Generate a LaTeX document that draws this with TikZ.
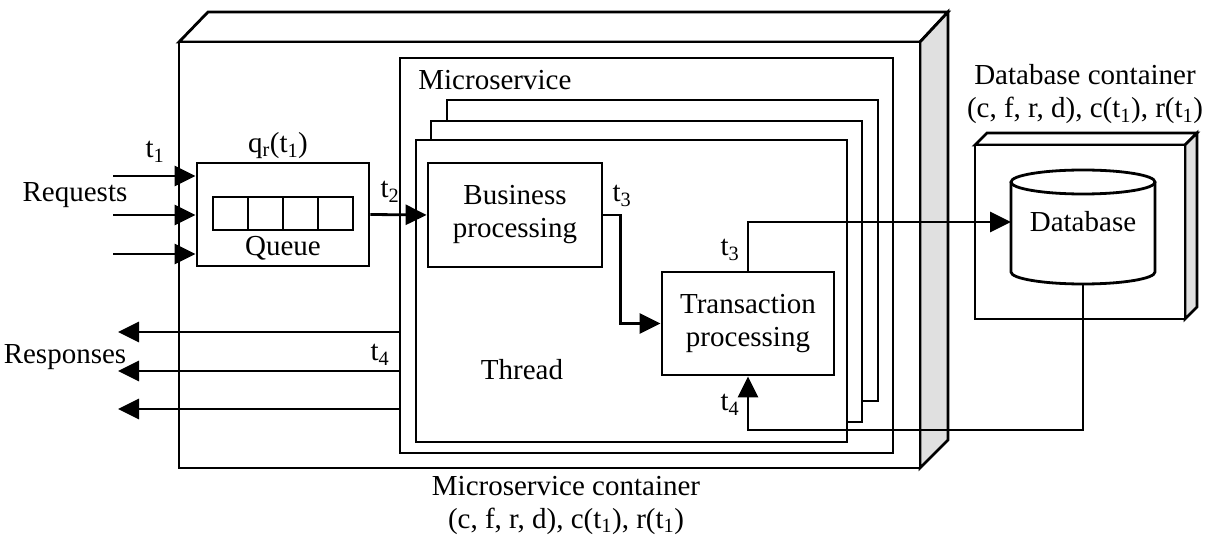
\documentclass[tikz,border=0pt]{standalone}
\usepackage{fontspec}
\setmainfont{Liberation Serif}
\usetikzlibrary{arrows.meta,calc}
\definecolor{sidegray}{HTML}{E0E0E0}
\begin{document}
\begin{tikzpicture}[x=1pt,y=-1pt, line width=2.8pt, line join=miter,
  every node/.style={font=\fontsize{29}{33}\selectfont, inner sep=0pt},
  box/.style={draw, fill=white, align=center},
  arr/.style={-{Triangle[length=21pt,width=20pt]}},
  lbl/.style={align=center}]
\useasboundingbox (0,0) rectangle (1211,545);

% ---- microservice container (3D box)
\draw[fill=white] (179,42) -- (208,12) -- (948,12) -- (920,42) -- cycle;
\draw[fill=sidegray] (920,42) -- (948,12) -- (948,440) -- (920,468) -- cycle;
\node[box, minimum width=741pt, minimum height=426pt] (mc) at (549.5,255) {};

% ---- microservice
\node[box, minimum width=493pt, minimum height=395pt] (ms) at (646.5,255.5) {};
\node[anchor=west] (mslbl) at (417,80) {Microservice};

% ---- thread stack
\node[box, minimum width=431pt, minimum height=301pt] (th3) at (662.5,250.5) {};
\node[box, minimum width=431pt, minimum height=301pt] (th2) at (646.5,271.5) {};
\node[box, minimum width=431pt, minimum height=302pt] (th1) at (631.5,291) {};
\node (thlbl) at (522,370) {Thread};

% ---- queue
\node[box, minimum width=172pt, minimum height=103pt] (queue) at (283,214.5) {};
\foreach \i/\cx in {1/230.5,2/265.5,3/300.5,4/335.5}
  \node[draw, minimum width=35pt, minimum height=33pt] (cell\i) at (\cx,213.5) {};
\node (qlbl) at (283,248) {Queue};
\node (qrlbl) at (278,146) {q\textsubscript{r}(t\textsubscript{1})};

% ---- processing boxes
\node[box, minimum width=174pt, minimum height=104pt] (biz) at (515,215) {Business\\processing};
\node[box, minimum width=172pt, minimum height=103pt] (tp) at (748,323.5) {Transaction\\processing};

% ---- database container (3D box)
\draw[fill=white] (975,145) -- (987,133) -- (1197,133) -- (1185,145) -- cycle;
\draw[fill=sidegray] (1185,145) -- (1197,133) -- (1197,307) -- (1185,319) -- cycle;
\node[box, minimum width=210pt, minimum height=174pt] (dbc) at (1080,232) {};
% cylinder
\draw[fill=white] (1011,182) -- (1011,272) arc[start angle=180, end angle=0, x radius=72, y radius=12] -- (1155,182);
\draw[fill=white] (1083,182) ellipse [x radius=72, y radius=12];
\node (db) at (1083,222) {Database};
\coordinate (dbin) at (1011,222);
\coordinate (dbbot) at (1083,284);
\coordinate (ret) at (748,430);

% ---- labels
\node[lbl] (dbclbl) at (1085,94) {Database container\\(c, f, r, d), c(t\textsubscript{1}), r(t\textsubscript{1})};
\node[lbl] (mclbl) at (566,505) {Microservice container\\(c, f, r, d), c(t\textsubscript{1}), r(t\textsubscript{1})};
\node (reqlbl) at (75,195) {Requests};
\node (reslbl) at (65,357) {Responses};
\node (t1lbl) at (155,152) {t\textsubscript{1}};
\node (t2lbl) at (390,192) {t\textsubscript{2}};
\node (t3albl) at (622,196) {t\textsubscript{3}};
\node (t3blbl) at (730,250) {t\textsubscript{3}};
\node (t4albl) at (730,405) {t\textsubscript{4}};
\node (t4blbl) at (380,355) {t\textsubscript{4}};

% ---- requests
\coordinate (rq1) at (113,176);
\coordinate (rq2) at (113,215);
\coordinate (rq3) at (113,254);
\foreach \c in {rq1,rq2,rq3}
  \draw[arr] (\c) -- (\c -| queue.west);

% ---- responses
\coordinate (rs1) at (118,332);
\coordinate (rs2) at (118,371);
\coordinate (rs3) at (118,409);
\foreach \c in {rs1,rs2,rs3}
  \draw[arr] (\c -| ms.west) -- (\c);

% ---- flow
\draw[arr] (queue.east) -- (biz.west);
\draw[arr] (biz.east) -- ++(17,0) |- (tp.west);
\draw[arr] (tp.north) |- (dbin);
\draw[arr] (dbbot) |- (ret) -- (tp.south);
\end{tikzpicture}
\end{document}
